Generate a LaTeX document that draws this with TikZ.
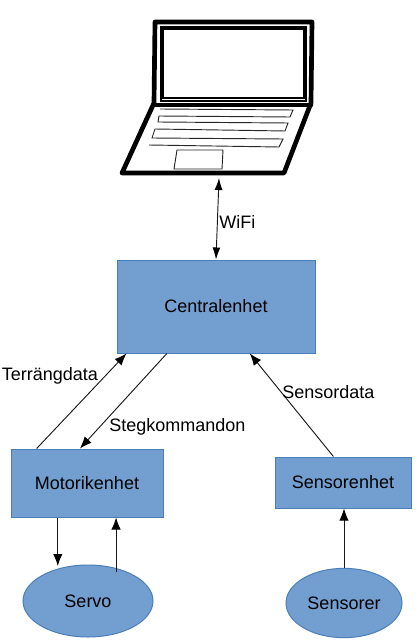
\documentclass[tikz,border=0pt]{standalone}
\usepackage{fontspec}
\setmainfont{Liberation Sans}
\usetikzlibrary{arrows.meta,calc,shapes.geometric}
\definecolor{boxfill}{HTML}{729FCF}
\definecolor{boxline}{HTML}{4A7EBB}
\tikzset{
 px/.style={x=0.75pt,y=-0.75pt},
 unit/.style={draw=boxline,fill=boxfill,line width=0.75pt,inner sep=0pt,font=\fontsize{13.5}{15}\selectfont,text=black},
 blockbox/.style={unit,rectangle,minimum width=#1},
 oval/.style={unit,ellipse},
 conn/.style={draw=black!90,line width=0.7pt,-{Latex[length=9pt,width=7pt,color=black]}},
 biconn/.style={draw=black!90,line width=0.7pt,{Latex[length=9pt,width=6pt,color=black]}-{Latex[length=9pt,width=6pt,color=black]}},
 lab/.style={font=\fontsize{13.5}{15}\selectfont,inner sep=0pt,text=black},
 laptopthick/.style={line width=3.5pt,line join=round,line cap=round},
 laptopthin/.style={line width=0.7pt,draw=black!85},
}
\begin{document}
\begin{tikzpicture}[px]
\useasboundingbox (0,0) rectangle (417,641);
% laptop
\draw[laptopthick] (155,22) -- (312,22) -- (311,103) -- (284,173) -- (122,173) -- (154,103) -- cycle;
\draw[laptopthick] (154,105) -- (311,105);
\draw[line width=2pt] (163,29) rectangle (304,98);
\draw[line width=0.8pt] (161,27) rectangle (306,101);
\draw[laptopthin] (160,109) -- (293,110) -- (290,117) -- (159,116) -- (158,122) -- (288,123) -- (285,131) -- (155,129) -- (152,138) -- (283,139) -- (279,147) -- (149,145);
\draw[laptopthin] (177,150) -- (223,150) -- (222,169) -- (174,169) -- cycle;
\coordinate (laptop) at (219,178);
% nodes
\node[blockbox=148.5pt,minimum height=69.75pt] (central) at (216,306.5) {Centralenhet};
\node[blockbox=114pt,minimum height=51pt] (motor) at (87,483) {Motorikenhet};
\node[blockbox=102pt,minimum height=38.25pt] (sensorenhet) at (343,482.5) {Sensorenhet};
\node[oval,minimum width=97.5pt,minimum height=54pt] (servo) at (88,601) {Servo};
\node[oval,minimum width=87pt,minimum height=52pt] (sensorer) at (344,603) {Sensorer};
% anchor points on the blocks
\coordinate (motorOut) at ($(motor.south west)!0.309!(motor.south east)$);
\coordinate (motorIn) at ($(motor.south west)!0.69!(motor.south east)$);
\coordinate (servoIn) at (motorOut |- 0,566);
\coordinate (servoOut) at (motorIn |- 0,572);
\coordinate (sensorTop) at (sensorer.north |- sensorenhet.south);
% connectors
\draw[biconn] (laptop) -- (central.north);
\draw[conn] ($(motor.north west)!0.171!(motor.north east)$) -- ($(central.south west)!0.05!(central.south east)$);
\draw[conn] ($(central.south west)!0.253!(central.south east)$) -- ($(motor.north west)!0.454!(motor.north east)$);
\draw[conn] ($(sensorenhet.north west)!0.43!(sensorenhet.north east)$) -- ($(central.south west)!0.67!(central.south east)$);
\draw[conn] (motorOut) -- (servoIn);
\draw[conn] (servoOut) -- (motorIn);
\draw[conn] (sensorer.north) -- (sensorTop);
% labels
\node[lab,anchor=west] (wifi) at (219,222) {WiFi};
\node[lab,anchor=west] (terr) at (1.5,376) {Terrängdata};
\node[lab,anchor=west] (steg) at (109,427) {Stegkommandon};
\node[lab,anchor=west] (sdata) at (282,392) {Sensordata};
\end{tikzpicture}
\end{document}
